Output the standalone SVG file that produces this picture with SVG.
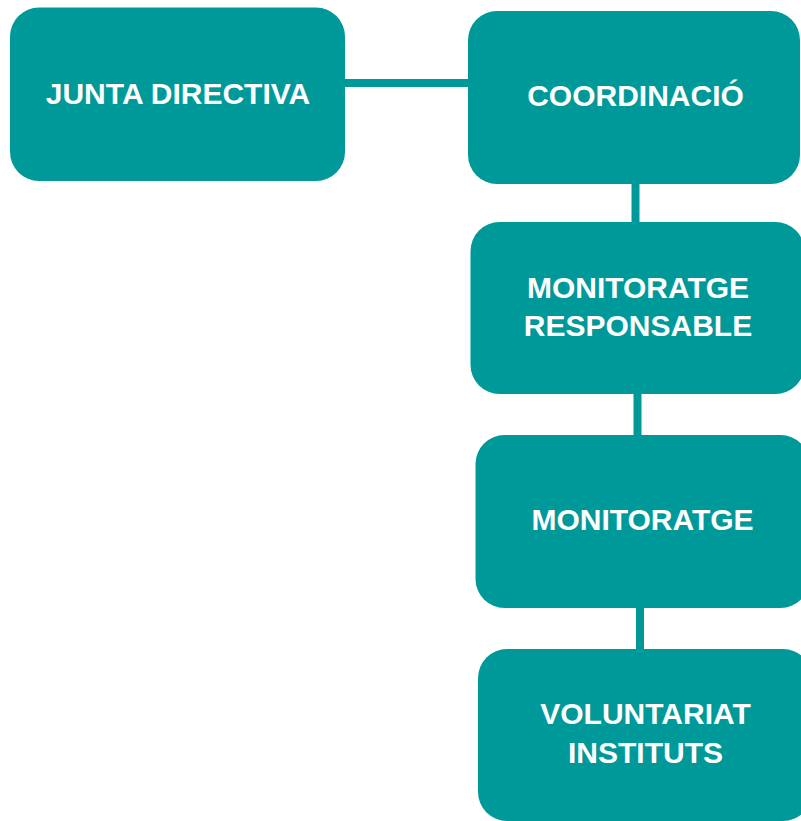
<svg xmlns="http://www.w3.org/2000/svg" width="801" height="821" viewBox="0 0 801 821">
<style>
.box{fill:#009999}
.lbl{fill:#ffffff;font-family:"Liberation Sans",Arial,sans-serif;font-weight:bold;font-size:30px;text-anchor:middle}
.conn{stroke:#009999;stroke-width:8;fill:none}
</style>
<rect width="801" height="821" fill="#ffffff"/>
<g id="connectors">
<line class="conn" x1="340" y1="83" x2="475" y2="83"/>
<line class="conn" x1="635.5" y1="178" x2="635.5" y2="228"/>
<line class="conn" x1="637.5" y1="388" x2="637.5" y2="441"/>
<line class="conn" x1="640" y1="602" x2="640" y2="655"/>
</g>
<g id="junta-directiva">
<rect class="box" x="10" y="7.5" width="335" height="173.5" rx="29" ry="29"/>
<text class="lbl" x="178" y="104">JUNTA DIRECTIVA</text>
</g>
<g id="coordinacio">
<rect class="box" x="468" y="11" width="332" height="173" rx="29" ry="29"/>
<text class="lbl" x="635.5" y="106">COORDINACIÓ</text>
</g>
<g id="monitoratge-responsable">
<rect class="box" x="470.5" y="222" width="334" height="172" rx="29" ry="29"/>
<text class="lbl" x="638" y="297.5">MONITORATGE</text>
<text class="lbl" x="638" y="335.5">RESPONSABLE</text>
</g>
<g id="monitoratge">
<rect class="box" x="475.5" y="435" width="334" height="173" rx="29" ry="29"/>
<text class="lbl" x="642.5" y="530">MONITORATGE</text>
</g>
<g id="voluntariat-instituts">
<rect class="box" x="478" y="649" width="334" height="172" rx="29" ry="29"/>
<text class="lbl" x="645.5" y="724">VOLUNTARIAT</text>
<text class="lbl" x="645.5" y="762.5">INSTITUTS</text>
</g>
</svg>
